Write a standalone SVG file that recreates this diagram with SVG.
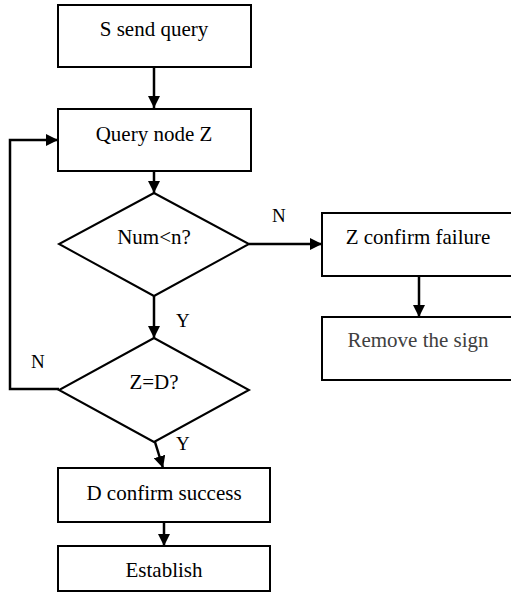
<svg xmlns="http://www.w3.org/2000/svg" width="511" height="593" viewBox="0 0 511 593">
<style>
.box{fill:#fff;stroke:#000;stroke-width:2}
text{font-family:'Liberation Serif','Times New Roman',Tinos,serif}
.t{font-size:21px;fill:#000;text-anchor:middle}
.lbl{font-size:19px;fill:#000}
.c{fill:none;stroke:#000;stroke-width:2.5}
</style>
<defs>
<marker id="ah" viewBox="0 0 12 12" refX="12" refY="6" markerWidth="12" markerHeight="12" markerUnits="userSpaceOnUse" orient="auto">
<path d="M0,0 L12,6 L0,12 Z" fill="#000"/>
</marker>
</defs>
<rect width="511" height="593" fill="#fff"/>
<g id="connectors">
<line class="c" x1="154" y1="67" x2="154" y2="108" marker-end="url(#ah)"/>
<line class="c" x1="154" y1="171" x2="154" y2="193" marker-end="url(#ah)"/>
<line class="c" x1="249" y1="244" x2="322" y2="244" marker-end="url(#ah)"/>
<line class="c" x1="419" y1="276" x2="419" y2="317" marker-end="url(#ah)"/>
<line class="c" x1="154" y1="296" x2="154" y2="338" marker-end="url(#ah)"/>
<polyline class="c" points="59,389 10,389 10,140 58,140" marker-end="url(#ah)"/>
<line class="c" x1="155" y1="442" x2="163" y2="468" marker-end="url(#ah)"/>
<line class="c" x1="164" y1="522" x2="164" y2="546" marker-end="url(#ah)"/>
<text class="lbl" x="272" y="222">N</text>
<text class="lbl" x="176" y="327">Y</text>
<text class="lbl" x="31" y="368">N</text>
<text class="lbl" x="176" y="450">Y</text>
</g>
<g id="n1"><rect class="box" x="58" y="5" width="193" height="62"/><text class="t" x="154" y="36">S send query</text></g>
<g id="n2"><rect class="box" x="58" y="109" width="193" height="62"/><text class="t" x="154" y="141">Query node Z</text></g>
<g id="d1"><polygon class="box" points="154,193 249,244 154,296 59,244"/><text class="t" x="154" y="244">Num&lt;n?</text></g>
<g id="n3"><rect class="box" x="322" y="213" width="200" height="63"/><text class="t" x="418" y="244">Z confirm failure</text></g>
<g id="n4"><rect class="box" x="322" y="317" width="200" height="63"/><text class="t" x="418" y="347" style="fill:#404040">Remove the sign</text></g>
<g id="d2"><polygon class="box" points="154,338 249,390 154,442 59,390"/><text class="t" x="154" y="389">Z=D?</text></g>
<g id="n5"><rect class="box" x="58" y="468" width="212" height="54"/><text class="t" x="164" y="500">D confirm success</text></g>
<g id="n6"><rect class="box" x="58" y="546" width="212" height="45"/><text class="t" x="164" y="577">Establish</text></g>
</svg>
